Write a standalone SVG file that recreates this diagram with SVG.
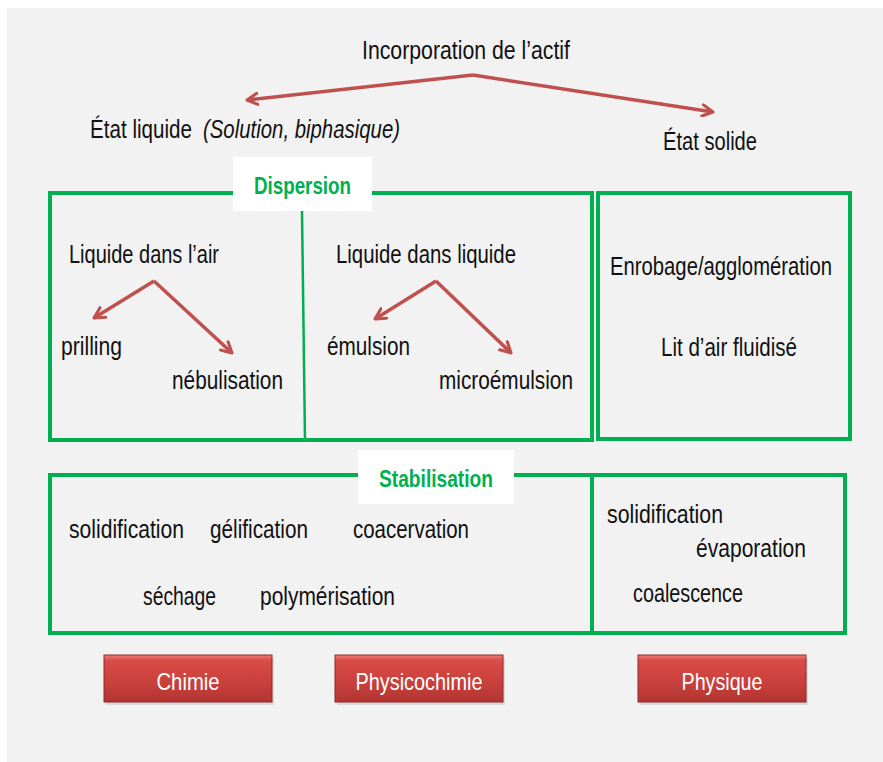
<svg xmlns="http://www.w3.org/2000/svg" width="883" height="762" viewBox="0 0 883 762">
<defs>
<style>
.t{font-family:"Liberation Sans",Arial,sans-serif;font-size:25px;fill:#111}
.ti{font-style:italic}
.lbl{font-family:"Liberation Sans",Arial,sans-serif;font-size:24px;font-weight:bold;fill:#00b050}
.bt{font-family:"Liberation Sans",Arial,sans-serif;font-size:24px;fill:#fff;text-anchor:middle}
.box{fill:none;stroke:#00b050;stroke-width:4}
.div{stroke:#00b050;stroke-width:2.5}
.arr{fill:none;stroke:#c0504d;stroke-width:3.5;marker-end:url(#ah)}
.btn{fill:url(#bg);stroke:#8c2a27;stroke-width:1}
</style>
<marker id="ah" viewBox="0 0 10 10" refX="8.5" refY="5" markerWidth="4" markerHeight="4" orient="auto" markerUnits="strokeWidth">
<path d="M1,1 L8.5,5 L1,9" fill="none" stroke="#c0504d" stroke-width="2.2" stroke-linecap="round" stroke-linejoin="round"/>
</marker>
<linearGradient id="bg" x1="0" y1="0" x2="0" y2="1">
<stop offset="0" stop-color="#f07a76"/>
<stop offset="0.12" stop-color="#d94b46"/>
<stop offset="0.6" stop-color="#c8403b"/>
<stop offset="1" stop-color="#b23532"/>
</linearGradient>
</defs>
<rect x="0" y="0" width="883" height="762" fill="#ffffff"/>
<rect x="7" y="8" width="876" height="754" fill="#f2f2f2"/>

<g id="top">
<text class="t" x="362" y="59" font-size="26" textLength="208" lengthAdjust="spacingAndGlyphs">Incorporation de l’actif</text>
</g>
<g id="etat-liquide">
<text class="t" x="90" y="138" textLength="102" lengthAdjust="spacingAndGlyphs">État liquide</text>
<text class="t ti" x="203" y="138" textLength="197" lengthAdjust="spacingAndGlyphs">(Solution, biphasique)</text>
</g>
<g id="etat-solide">
<text class="t" x="663" y="150" textLength="94" lengthAdjust="spacingAndGlyphs">État solide</text>
</g>

<g id="dispersion">
<rect class="box" x="50" y="193" width="542" height="247"/>
<line class="div" x1="302" y1="211" x2="305" y2="440"/>
<rect x="233" y="157" width="139" height="54" fill="#ffffff"/>
<text class="lbl" x="254" y="194" textLength="97" lengthAdjust="spacingAndGlyphs">Dispersion</text>
</g>
<g id="liquide-air">
<text class="t" x="69" y="263" textLength="150" lengthAdjust="spacingAndGlyphs">Liquide dans l’air</text>
<text class="t" x="61" y="355" textLength="61" lengthAdjust="spacingAndGlyphs">prilling</text>
<text class="t" x="172" y="389" textLength="111" lengthAdjust="spacingAndGlyphs">nébulisation</text>
</g>
<g id="liquide-liquide">
<text class="t" x="336" y="263" textLength="180" lengthAdjust="spacingAndGlyphs">Liquide dans liquide</text>
<text class="t" x="327" y="355" textLength="83" lengthAdjust="spacingAndGlyphs">émulsion</text>
<text class="t" x="439" y="389" textLength="134" lengthAdjust="spacingAndGlyphs">microémulsion</text>
</g>
<g id="solide-box">
<rect class="box" x="598" y="193" width="252" height="246"/>
<text class="t" x="610" y="275" font-size="21" textLength="222" lengthAdjust="spacingAndGlyphs">Enrobage/agglomération</text>
<text class="t" x="661" y="356" textLength="136" lengthAdjust="spacingAndGlyphs">Lit d’air fluidisé</text>
</g>

<g id="stabilisation">
<rect class="box" x="50" y="475" width="795" height="158"/>
<line class="box" x1="592" y1="475" x2="592" y2="633"/>
<rect x="358" y="450" width="156" height="54" fill="#ffffff"/>
<text class="lbl" x="379" y="487" textLength="114" lengthAdjust="spacingAndGlyphs">Stabilisation</text>
<text class="t" x="69" y="538" textLength="115" lengthAdjust="spacingAndGlyphs">solidification</text>
<text class="t" x="210" y="538" textLength="98" lengthAdjust="spacingAndGlyphs">gélification</text>
<text class="t" x="353" y="538" textLength="116" lengthAdjust="spacingAndGlyphs">coacervation</text>
<text class="t" x="143" y="605" textLength="73" lengthAdjust="spacingAndGlyphs">séchage</text>
<text class="t" x="260" y="605" textLength="135" lengthAdjust="spacingAndGlyphs">polymérisation</text>
<text class="t" x="607" y="523" textLength="116" lengthAdjust="spacingAndGlyphs">solidification</text>
<text class="t" x="696" y="557" textLength="110" lengthAdjust="spacingAndGlyphs">évaporation</text>
<text class="t" x="633" y="602" textLength="110" lengthAdjust="spacingAndGlyphs">coalescence</text>
</g>

<g id="connectors">
<path class="arr" d="M473,75 L247,100"/>
<path class="arr" d="M473,75 L713,112"/>
<path class="arr" d="M154,281 L94,318"/>
<path class="arr" d="M154,281 L232,353"/>
<path class="arr" d="M436,281 L375,319"/>
<path class="arr" d="M436,281 L511,353"/>
</g>

<g id="chimie">
<rect x="106" y="658" width="168" height="47" fill="#c8c8c8" opacity="0.6"/>
<rect class="btn" x="104" y="655" width="168" height="47"/>
<text class="bt" x="188" y="690" textLength="63" lengthAdjust="spacingAndGlyphs">Chimie</text>
</g>
<g id="physicochimie">
<rect x="337" y="658" width="168" height="47" fill="#c8c8c8" opacity="0.6"/>
<rect class="btn" x="335" y="655" width="168" height="47"/>
<text class="bt" x="419" y="690" textLength="127" lengthAdjust="spacingAndGlyphs">Physicochimie</text>
</g>
<g id="physique">
<rect x="640" y="658" width="168" height="47" fill="#c8c8c8" opacity="0.6"/>
<rect class="btn" x="638" y="655" width="168" height="47"/>
<text class="bt" x="722" y="690" textLength="81" lengthAdjust="spacingAndGlyphs">Physique</text>
</g>
</svg>
